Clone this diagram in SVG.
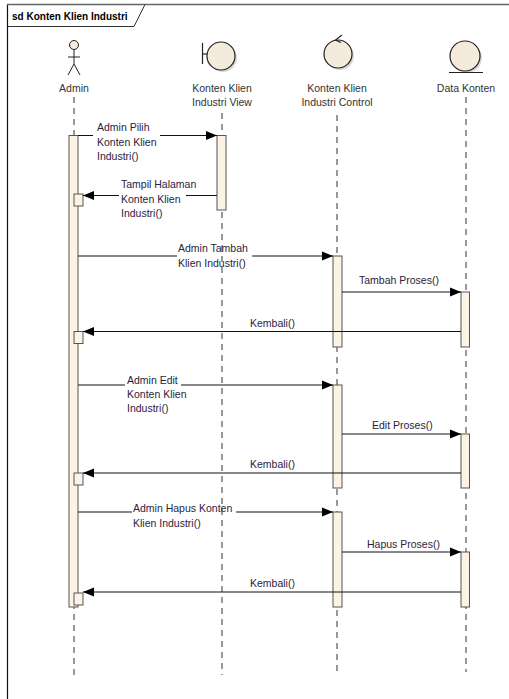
<svg xmlns="http://www.w3.org/2000/svg" width="509" height="699" viewBox="0 0 509 699">
<style>
text{font-family:"Liberation Sans",Arial,sans-serif;font-size:10.5px;fill:#2a2340}
.lbl{fill:#333}
.ttl{font-weight:bold;font-size:10px;fill:#000}
.life{stroke:#333;stroke-width:1;stroke-dasharray:6,5;fill:none}
.act{fill:#fdf3e4;stroke:#555;stroke-width:1}
.msg{stroke:#111;stroke-width:1;fill:none;marker-end:url(#ah)}
.shape{fill:#f5ebdd;stroke:#222;stroke-width:1.2}
.shadow{fill:#000;opacity:0.15}
</style>
<defs>
<marker id="ah" markerUnits="userSpaceOnUse" markerWidth="12" markerHeight="10" refX="11" refY="5" orient="auto">
<path d="M0,0.5 L11,5 L0,9.5 Z" fill="#000"/>
</marker>
</defs>
<rect width="509" height="699" fill="#fff"/>
<g id="frame">
<line x1="7.5" y1="4" x2="7.5" y2="699" stroke="#111" stroke-width="1.2"/>
<line x1="7" y1="4.5" x2="509" y2="4.5" stroke="#666" stroke-width="1.5"/>
<path d="M7.5,26.5 H134 L145,4.5" fill="none" stroke="#333" stroke-width="1"/>
<text class="ttl" x="12" y="20">sd Konten Klien Industri</text>
</g>
<g id="lifelines">
<line class="life" x1="74" y1="97" x2="74" y2="675"/>
<line class="life" x1="222" y1="113" x2="222" y2="675"/>
<line class="life" x1="337" y1="115" x2="337" y2="675"/>
<line class="life" x1="466" y1="97" x2="466" y2="672" style="stroke:#777;stroke-width:1.5"/>
</g>
<g id="admin">
<circle cx="74" cy="45" r="4.5" fill="#f5ebdd" stroke="#222"/>
<line x1="74" y1="49.5" x2="74" y2="64" stroke="#222"/>
<line x1="68" y1="57" x2="80" y2="57" stroke="#222"/>
<path d="M68,75 L74,64 L80,75" fill="none" stroke="#222"/>
<text class="lbl" x="74" y="92" text-anchor="middle">Admin</text>
</g>
<g id="view">
<circle class="shadow" cx="223" cy="58" r="14"/>
<line x1="202.5" y1="43" x2="202.5" y2="64" stroke="#222" stroke-width="1.2"/>
<line x1="202.5" y1="54" x2="207" y2="54" stroke="#222" stroke-width="1.2"/>
<circle class="shape" cx="221" cy="56" r="14"/>
<text class="lbl" x="222" y="92" text-anchor="middle">Konten Klien</text>
<text class="lbl" x="222" y="106" text-anchor="middle">Industri View</text>
</g>
<g id="control">
<circle class="shadow" cx="340" cy="56" r="14"/>
<circle class="shape" cx="338" cy="54" r="14"/>
<path d="M342,35 L335.5,40 L341,42.5" fill="none" stroke="#222" stroke-width="1.2"/>
<text class="lbl" x="337" y="92" text-anchor="middle">Konten Klien</text>
<text class="lbl" x="337" y="106" text-anchor="middle">Industri Control</text>
</g>
<g id="data">
<circle class="shadow" cx="467" cy="58" r="15"/>
<circle class="shape" cx="465" cy="56" r="15"/>
<line x1="449" y1="72.5" x2="483" y2="72.5" stroke="#222" stroke-width="1.2"/>
<text class="lbl" x="466" y="92" text-anchor="middle">Data Konten</text>
</g>
<g id="activations">
<rect class="act" x="69" y="135.5" width="9" height="471.5"/>
<rect class="act" x="74" y="194" width="9" height="12"/>
<rect class="act" x="74" y="331.5" width="9" height="12"/>
<rect class="act" x="74" y="473" width="9" height="12"/>
<rect class="act" x="74" y="593" width="9" height="12"/>
<rect class="act" x="217" y="135.5" width="9" height="74.5"/>
<rect class="act" x="333" y="256" width="9" height="91"/>
<rect class="act" x="333" y="385" width="9" height="103"/>
<rect class="act" x="333" y="512" width="9" height="95"/>
<rect class="act" x="461" y="292" width="8.5" height="55"/>
<rect class="act" x="461" y="434" width="8.5" height="54"/>
<rect class="act" x="461" y="552" width="8.5" height="55"/>
</g>
<g id="connectors">
<path class="msg" d="M78,135.5 H93 M160,135.5 H217"/>
<path class="msg" d="M217,195.5 H186 M119,195.5 H83"/>
<path class="msg" d="M78,256 H177 M252,256 H333"/>
<path class="msg" d="M342,292 H461"/>
<path class="msg" d="M461,331.5 H83"/>
<path class="msg" d="M78,385 H125 M181,385 H333"/>
<path class="msg" d="M342,434 H461"/>
<path class="msg" d="M461,473 H83"/>
<path class="msg" d="M78,512 H132 M236,512 H333"/>
<path class="msg" d="M342,552 H461"/>
<path class="msg" d="M461,592 H83"/>
</g>
<g id="labels">
<text x="97" y="131">Admin Pilih</text>
<text x="97" y="146">Konten Klien</text>
<text x="97" y="160">Industri()</text>
<text x="121" y="188">Tampil Halaman</text>
<text x="121" y="203">Konten Klien</text>
<text x="121" y="217">Industri()</text>
<text x="178" y="252">Admin Tambah</text>
<text x="178" y="267">Klien Industri()</text>
<text x="359" y="284">Tambah Proses()</text>
<text x="250" y="327">Kembali()</text>
<text x="127" y="384">Admin Edit</text>
<text x="127" y="398">Konten Klien</text>
<text x="127" y="412">Industri()</text>
<text x="372" y="429">Edit Proses()</text>
<text x="250" y="468">Kembali()</text>
<text x="133" y="512">Admin Hapus Konten</text>
<text x="133" y="527">Klien Industri()</text>
<text x="367" y="548">Hapus Proses()</text>
<text x="250" y="587">Kembali()</text>
</g>
</svg>
